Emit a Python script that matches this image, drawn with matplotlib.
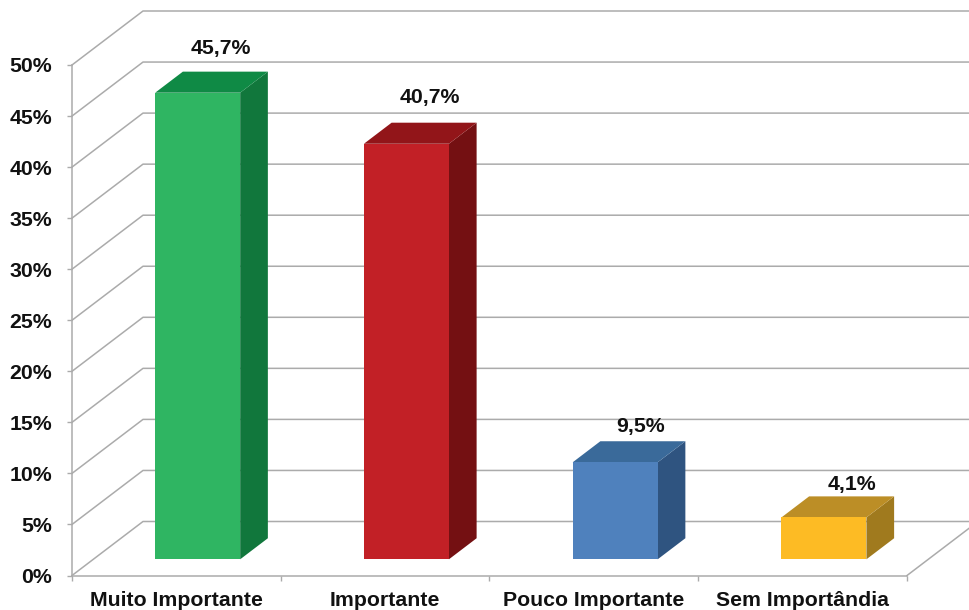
import numpy as np
import matplotlib
matplotlib.use('Agg')
import matplotlib.pyplot as plt
from matplotlib.patches import Polygon

plt.rcParams['font.family'] = ['Liberation Sans', 'DejaVu Sans']

categories = ['Muito Importante', 'Importante', 'Pouco Importante', 'Sem Importândia']
values = [45.7, 40.7, 9.5, 4.1]
labels = ['45,7%', '40,7%', '9,5%', '4,1%']
y_ticks = [0, 5, 10, 15, 20, 25, 30, 35, 40, 45, 50]

front_colors = ['#2FB562', '#C22026', '#4F81BD', '#FDBB24']
top_colors = ['#0F8A45', '#921519', '#3A6A9A', '#BC8E26']
side_colors = ['#11773C', '#741012', '#2F5480', '#A07A1E']
label_offsets = [(17, 32), (17, 33.5), (18, 25.5), (20.5, 24)]  # points, from bar top centre

W, H = 970, 610
GRID = '#ABABAB'
FS = 15.3

# depth of the 3d box, in data units
DX = 71 / 208.75
DY = 54 / 10.21
BAR_W = 85 / 208.75
BAR_D0 = 0.30  # bars start 30% into the floor
BAR_D1 = 0.69


def proj(x, y, d):
    return (x + DX * d, y + DY * d)


fig = plt.figure(figsize=(W / 100, H / 100), dpi=100)
ax = fig.add_axes([72 / W, 1 - 575.5 / H, 835 / W, 510.5 / H])
ax.set_xlim(-0.5, 3.5)
ax.set_ylim(0, 50)
ax.patch.set_visible(False)

for s in ['top', 'right']:
    ax.spines[s].set_visible(False)
for s in ['left', 'bottom']:
    ax.spines[s].set_color(GRID)
    ax.spines[s].set_linewidth(1.1)

# side wall and back wall grid
for t in y_ticks:
    xs = [-0.5, proj(-0.5, t, 1)[0], proj(3.5, t, 1)[0]]
    ys = [t, t + DY, t + DY]
    ax.plot(xs, ys, color=GRID, lw=1.1, clip_on=False, zorder=1)
fx, fy = proj(3.5, 0, 1)
ax.plot([3.5, fx], [0, fy], color=GRID, lw=1.1, clip_on=False, zorder=1)

# bars
for i, v in enumerate(values):
    x0 = i - BAR_W / 2
    x1 = i + BAR_W / 2
    front = [proj(x0, 0, BAR_D0), proj(x1, 0, BAR_D0), proj(x1, v, BAR_D0), proj(x0, v, BAR_D0)]
    side = [proj(x1, 0, BAR_D0), proj(x1, 0, BAR_D1), proj(x1, v, BAR_D1), proj(x1, v, BAR_D0)]
    top = [proj(x0, v, BAR_D0), proj(x1, v, BAR_D0), proj(x1, v, BAR_D1), proj(x0, v, BAR_D1)]
    ax.add_patch(Polygon(side, fc=side_colors[i], ec='none', zorder=3, clip_on=False))
    ax.add_patch(Polygon(top, fc=top_colors[i], ec='none', zorder=3, clip_on=False))
    ax.add_patch(Polygon(front, fc=front_colors[i], ec='none', zorder=4, clip_on=False))
    ax.annotate(labels[i], xy=proj(i, v, BAR_D0), xytext=label_offsets[i],
                textcoords='offset points', ha='center', va='center',
                fontsize=FS, fontweight='bold', color='#111111', zorder=5)

ax.set_yticks(y_ticks)
ax.set_yticklabels(['%d%%' % t for t in y_ticks], fontsize=FS, fontweight='bold', color='#111111')
ax.set_xticks([-0.5, 0.5, 1.5, 2.5, 3.5])
ax.set_xticklabels([])
ax.set_xticks(range(4), categories, minor=True, fontsize=FS, fontweight='bold', color='#111111')
ax.tick_params(axis='x', which='minor', length=0, pad=11)
ax.tick_params(axis='both', which='major', color=GRID, length=3.5, width=1.0)
ax.tick_params(axis='y', pad=11)

fig.savefig('out.png', dpi=100)
